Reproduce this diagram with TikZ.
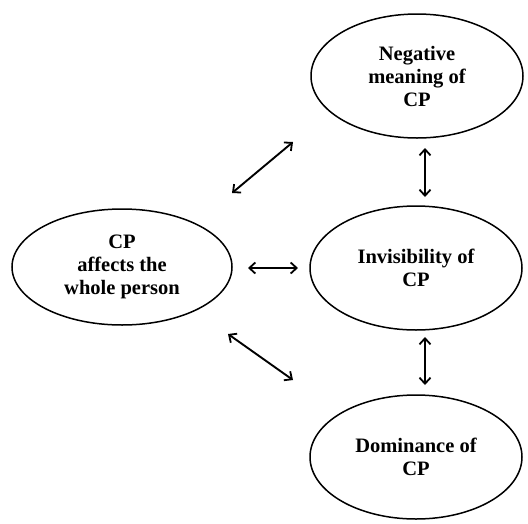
\documentclass[tikz,border=0pt]{standalone}
\usepackage{fontspec}
\setmainfont{Liberation Serif}
\usetikzlibrary{shapes.geometric,arrows.meta}
\begin{document}
\begin{tikzpicture}[x=1pt,y=-1pt,
  oval/.style={ellipse,draw,line width=1.5pt,inner sep=0pt,align=center,
    font=\fontsize{20.5}{23}\selectfont\bfseries},
  arr/.style={{Straight Barb[length=6pt,width=11pt,line width=1.8pt]}-{Straight Barb[length=6pt,width=11pt,line width=1.8pt]},line width=1.9pt}]
\useasboundingbox (0,0) rectangle (528,523);
\node[oval,minimum width=212pt,minimum height=124pt] (neg) at (417,76) {Negative\\meaning of\\CP};
\node[oval,minimum width=220pt,minimum height=116pt] (cp) at (122,267) {CP\\affects the\\whole person};
\node[oval,minimum width=212pt,minimum height=124pt] (inv) at (416,268) {Invisibility of\\CP};
\node[oval,minimum width=212pt,minimum height=124pt] (dom) at (416,457) {Dominance of\\CP};
\coordinate (a1) at (232,193); \coordinate (a2) at (293,142);
\coordinate (b1) at (248,268); \coordinate (b2) at (298,268);
\coordinate (c1) at (228,334); \coordinate (c2) at (293,380);
\coordinate (d1) at (425,148); \coordinate (d2) at (425,197);
\coordinate (e1) at (425,337); \coordinate (e2) at (425,385);
\draw[arr] (a1) -- (a2);
\draw[arr] (b1) -- (b2);
\draw[arr] (c1) -- (c2);
\draw[arr] (d1) -- (d2);
\draw[arr] (e1) -- (e2);
\end{tikzpicture}
\end{document}
